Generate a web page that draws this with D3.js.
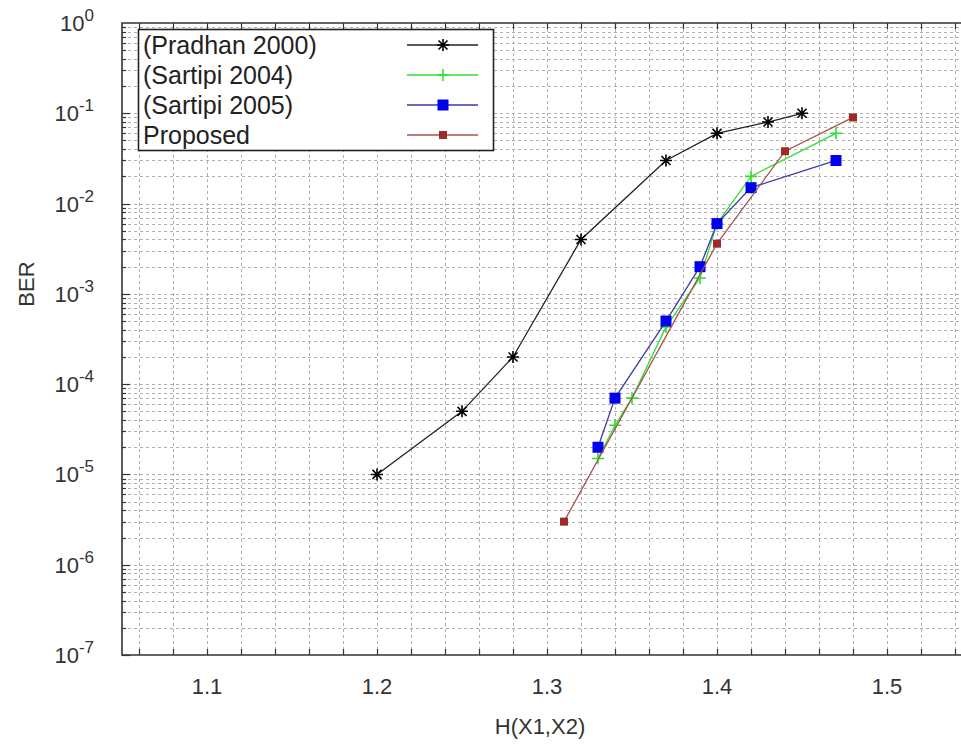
<!DOCTYPE html>
<html>
<head>
<meta charset="utf-8">
<script src="https://cdn.jsdelivr.net/npm/d3@7"></script>
<style>
  body { margin: 0; background: #fff; }
  text { font-family: "Liberation Sans", Arial, sans-serif; }
</style>
</head>
<body>
<div class="chart"></div>
<script>
//Data
const xPradhan = [1.20, 1.25, 1.28, 1.32, 1.37, 1.40, 1.43, 1.45];
const yPradhan = [1e-5, 5e-5, 2e-4, 4e-3, 3e-2, 6e-2, 8e-2, 1e-1];

const xSartipi04 = [1.33, 1.34, 1.35, 1.37, 1.39, 1.40, 1.42, 1.47];
const ySartipi04 = [1.5e-5, 3.5e-5, 7e-5, 4.3e-4, 1.5e-3, 6e-3, 2e-2, 6e-2];

const xSartipi05 = [1.33, 1.34, 1.37, 1.39, 1.40, 1.42, 1.47];
const ySartipi05 = [2e-5, 7e-5, 5e-4, 2e-3, 6e-3, 1.5e-2, 3e-2];

const xProposed = [1.31, 1.40, 1.44, 1.48];
const yProposed = [3e-6, 3.6e-3, 3.8e-2, 9e-2];

const seriesNames = ['(Pradhan 2000)', '(Sartipi 2004)', '(Sartipi 2005)', 'Proposed'];
const xTickLabels = ['1.1', '1.2', '1.3', '1.4', '1.5'];
const yTickExps = [0, -1, -2, -3, -4, -5, -6, -7];

//Sizes
const WIDTH = 961;
const HEIGHT = 744;
const LEFT = 122;
const TOP = 23;
const BOTTOM = 655;

//Scales (right side of the frame runs off the picture)
const xScale = d3.scaleLinear().domain([1.05, 1.55]).range([LEFT, LEFT + 850]);
const yScale = d3.scaleLog().domain([1e-7, 1]).range([BOTTOM, TOP]);

let svg = d3.select('.chart')
.append('svg')
.attr('width', WIDTH)
.attr('height', HEIGHT);

//Grid positions
let xGrid = d3.range(0, 26).map(i => 1.06 + i * 0.02);
let yGrid = [];
for (let e = -7; e < 0; e++) {
    for (let m = 1; m <= 9; m++) {
        yGrid.push(m * Math.pow(10, e));
    }
}

let grid = svg.append('g')
.attr('stroke', '#b0b0b0')
.attr('stroke-width', 1)
.attr('stroke-dasharray', '3,3');

grid.selectAll()
.data(xGrid)
.enter()
.append('line')
.attr('x1', d => Math.round(xScale(d)) + 0.5)
.attr('x2', d => Math.round(xScale(d)) + 0.5)
.attr('y1', TOP)
.attr('y2', BOTTOM);

grid.selectAll()
.data(yGrid.slice(1))
.enter()
.append('line')
.attr('x1', LEFT)
.attr('x2', WIDTH)
.attr('y1', d => Math.round(yScale(d)) + 0.5)
.attr('y2', d => Math.round(yScale(d)) + 0.5);

//Frame
svg.append('path')
.attr('d', `M${WIDTH + 5},${TOP}H${LEFT}V${BOTTOM}H${WIDTH + 5}`)
.attr('fill', 'none')
.attr('stroke', '#333')
.attr('stroke-width', 1.6);

//Tick marks
let ticks = svg.append('g').attr('stroke', '#333').attr('stroke-width', 1.2);
xGrid.forEach(d => {
    let x = Math.round(xScale(d)) + 0.5;
    ticks.append('line').attr('x1', x).attr('x2', x).attr('y1', BOTTOM).attr('y2', BOTTOM - 6);
    ticks.append('line').attr('x1', x).attr('x2', x).attr('y1', TOP).attr('y2', TOP + 6);
});
yGrid.forEach(d => {
    let y = Math.round(yScale(d)) + 0.5;
    let major = Math.abs(Math.log10(d) - Math.round(Math.log10(d))) < 1e-9;
    ticks.append('line').attr('x1', LEFT).attr('x2', LEFT + (major ? 8 : 4)).attr('y1', y).attr('y2', y);
});

//Axis labels
svg.append('g')
.selectAll()
.data(xTickLabels)
.enter()
.append('text')
.attr('x', d => xScale(+d))
.attr('y', 694)
.attr('text-anchor', 'middle')
.style('font-size', '22px')
.style('fill', '#333')
.text(d => d);

let yLabels = svg.append('g')
.selectAll()
.data(yTickExps)
.enter()
.append('text')
.attr('x', 94)
.attr('y', d => yScale(Math.pow(10, d)) + 8)
.attr('text-anchor', 'end')
.style('font-size', '22px')
.style('fill', '#333');

yLabels.append('tspan').text('10');
yLabels.append('tspan')
.attr('dy', -10)
.style('font-size', '17px')
.text(d => d);

svg.append('text')
.attr('x', 540)
.attr('y', 734)
.attr('text-anchor', 'middle')
.style('font-size', '22px')
.style('fill', '#333')
.text('H(X1,X2)');

svg.append('text')
.attr('transform', 'translate(34,284) rotate(-90)')
.attr('text-anchor', 'middle')
.style('font-size', '22px')
.style('fill', '#333')
.text('BER');

//Series
const series = [
    { name: seriesNames[0], xs: xPradhan, ys: yPradhan, line: '#222', fill: '#000', marker: 'star' },
    { name: seriesNames[1], xs: xSartipi04, ys: ySartipi04, line: '#33dd33', fill: '#33dd33', marker: 'plus' },
    { name: seriesNames[2], xs: xSartipi05, ys: ySartipi05, line: '#3a3aa8', fill: '#0000f0', marker: 'square' },
    { name: seriesNames[3], xs: xProposed, ys: yProposed, line: '#a85050', fill: '#a02a2a', marker: 'small' }
];

const lineGen = d3.line().x(d => xScale(d[0])).y(d => yScale(d[1]));

//Draw one marker at x,y
function drawMarker(g, s, x, y) {
    if (s.marker == 'star') {
        let r = 6;
        g.append('path')
        .attr('d', `M${x - r},${y}H${x + r}M${x},${y - r}V${y + r}M${x - 4.5},${y - 4.5}L${x + 4.5},${y + 4.5}M${x - 4.5},${y + 4.5}L${x + 4.5},${y - 4.5}`)
        .attr('stroke', s.fill)
        .attr('stroke-width', 1.6);
    }
    else if (s.marker == 'plus') {
        let r = 6;
        g.append('path')
        .attr('d', `M${x - r},${y}H${x + r}M${x},${y - r}V${y + r}`)
        .attr('stroke', s.fill)
        .attr('stroke-width', 1.6);
    }
    else if (s.marker == 'square') {
        g.append('rect')
        .attr('x', x - 5.5).attr('y', y - 5.5)
        .attr('width', 11).attr('height', 11)
        .attr('fill', s.fill);
    }
    else {
        g.append('rect')
        .attr('x', x - 4).attr('y', y - 4)
        .attr('width', 8).attr('height', 8)
        .attr('fill', s.fill);
    }
}

series.forEach(s => {
    let pts = s.xs.map((x, i) => [x, s.ys[i]]);
    let g = svg.append('g');
    g.append('path')
    .attr('d', lineGen(pts))
    .attr('fill', 'none')
    .attr('stroke', s.line)
    .attr('stroke-width', 1.3);
    pts.forEach(p => drawMarker(g, s, xScale(p[0]), yScale(p[1])));
});

//Legend
let legend = svg.append('g');
legend.append('rect')
.attr('x', 138.5).attr('y', 29.5)
.attr('width', 355).attr('height', 121)
.attr('fill', '#fff')
.attr('stroke', '#222')
.attr('stroke-width', 1.6);

series.forEach((s, i) => {
    let y = 45 + i * 30;
    legend.append('text')
    .attr('x', 143)
    .attr('y', y + 9)
    .style('font-size', '25px')
    .style('fill', '#222')
    .text(s.name);
    legend.append('line')
    .attr('x1', 407).attr('x2', 478)
    .attr('y1', y).attr('y2', y)
    .attr('stroke', s.line)
    .attr('stroke-width', 1.6);
    drawMarker(legend, s, 443, y);
});
</script>
</body>
</html>
